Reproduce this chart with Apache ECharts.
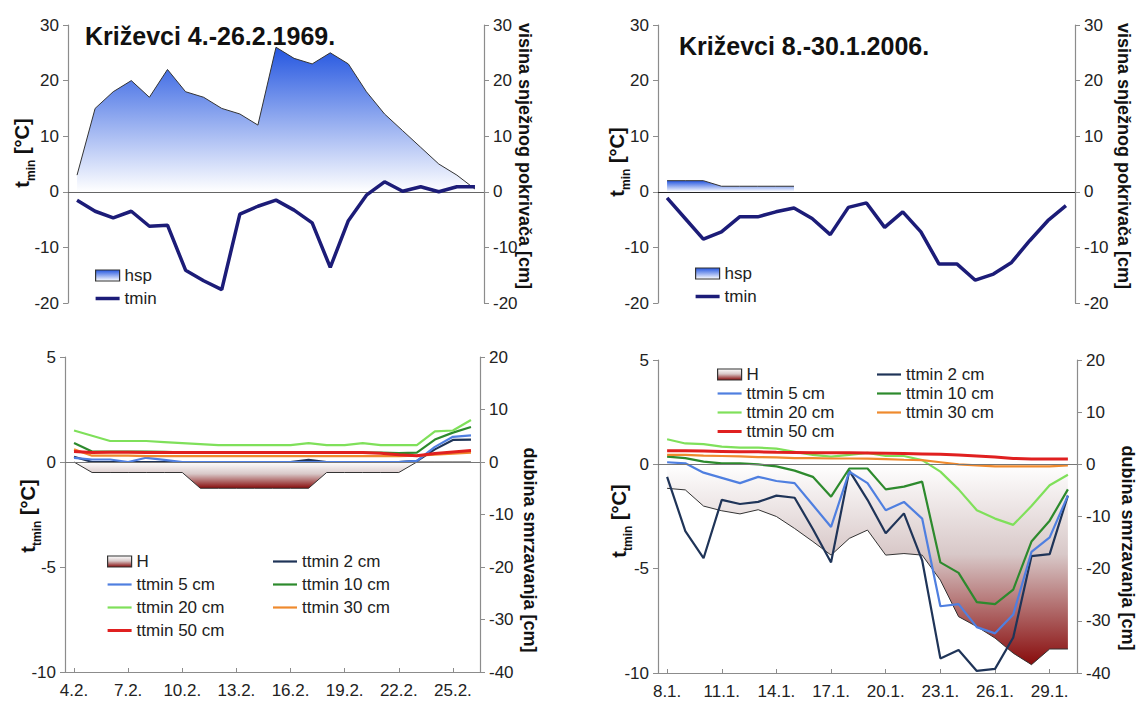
<!DOCTYPE html>
<html><head><meta charset="utf-8">
<script src="https://cdn.jsdelivr.net/npm/echarts@6/dist/echarts.min.js"></script>
<style>html,body{margin:0;padding:0;background:#fff}#c{width:1143px;height:702px}</style>
</head><body><div id="c"></div>
<script>
// ---- categories ----
const daysFeb1969 = ['4.2.','5.2.','6.2.','7.2.','8.2.','9.2.','10.2.','11.2.','12.2.','13.2.','14.2.','15.2.','16.2.','17.2.','18.2.','19.2.','20.2.','21.2.','22.2.','23.2.','24.2.','25.2.','26.2.'];
const daysJan2006 = ['8.1.','9.1.','10.1.','11.1.','12.1.','13.1.','14.1.','15.1.','16.1.','17.1.','18.1.','19.1.','20.1.','21.1.','22.1.','23.1.','24.1.','25.1.','26.1.','27.1.','28.1.','29.1.','30.1.'];

// ---- 1969 (top-left / bottom-left) ----
const hsp1969  = [3,15,18,20,17,22,18,17,15,14,12,26,24,23,25,23,18,14,11,8,5,3,0.5];
const tmin1969 = [-1.5,-3.5,-4.7,-3.5,-6.2,-6,-14.1,-16,-17.6,-4,-2.6,-1.5,-3.3,-5.6,-13.6,-5.2,-0.6,1.8,0.1,0.9,0,0.9,0.9];
const H1969    = [0,-2,-2,-2,-2,-2,-2,-5,-5,-5,-5,-5,-5,-5,-2,-2,-2,-2,-2,0,0,0,0];
const t2_1969  = [0.25,0,0,0,0,0,0,0,0,0,0,0,0,0.1,0,0,0,0,0,0.05,0.6,1.05,1.07];
const t5_1969  = [0.2,0.12,0.12,0,0.2,0.1,0,0,0,0,0,0,0,0,0,0,0,0,0,0.05,0.72,1.2,1.27];
const t10_1969 = [0.9,0.5,0.5,0.5,0.5,0.48,0.46,0.45,0.45,0.45,0.45,0.45,0.45,0.45,0.45,0.45,0.45,0.45,0.42,0.45,1.07,1.4,1.67];
const t20_1969 = [1.5,1.25,1.0,1.0,1.0,0.95,0.9,0.85,0.8,0.8,0.8,0.8,0.8,0.9,0.8,0.8,0.9,0.8,0.8,0.8,1.46,1.5,2.0];
const t30_1969 = [0.6,0.3,0.3,0.3,0.28,0.28,0.28,0.28,0.28,0.28,0.28,0.28,0.28,0.28,0.28,0.28,0.28,0.28,0.28,0.3,0.35,0.4,0.45];
const t50_1969 = [0.5,0.45,0.47,0.47,0.45,0.45,0.45,0.45,0.45,0.45,0.45,0.45,0.45,0.45,0.45,0.45,0.45,0.42,0.35,0.3,0.4,0.48,0.55];

// ---- 2006 (top-right / bottom-right) ----
const hsp2006  = [2,2,2,1,1,1,1,1,null,null,null,null,null,null,null,null,null,null,null,null,null,null,null];
const tmin2006 = [-1.1,-4.8,-8.5,-7.2,-4.5,-4.5,-3.6,-2.9,-4.8,-7.7,-2.8,-2.0,-6.4,-3.6,-7.2,-13.0,-13.0,-15.9,-14.8,-12.7,-8.8,-5.2,-2.5];
const H2006    = [-4.6,-4.9,-8.0,-8.9,-9.5,-8.7,-10.0,-12.3,-14.8,-17.4,-14.2,-12.6,-17.4,-17.1,-17.4,-22.2,-29.2,-31.1,-33.3,-36.2,-38.4,-35.4,-35.4];
const t2_2006  = [-0.6,-3.2,-4.5,-1.7,-1.9,-1.8,-1.5,-1.6,-3.1,-4.7,-0.3,-1.7,-3.3,-2.35,-4.6,-9.3,-8.9,-9.9,-9.8,-8.3,-4.4,-4.3,-1.5];
const t5_2006  = [0.1,0.05,-0.4,-0.65,-0.9,-0.6,-0.8,-0.9,-1.95,-3.0,-0.35,-0.9,-2.2,-1.8,-2.6,-6.8,-6.7,-7.8,-8.1,-7.2,-4.2,-3.5,-1.5];
const t10_2006 = [0.37,0.3,0.13,0.05,0.05,0,-0.1,-0.3,-0.6,-1.55,-0.2,-0.2,-1.2,-1.07,-0.83,-4.7,-5.2,-6.6,-6.7,-6.0,-3.7,-2.7,-1.2];
const t20_2006 = [1.2,1.0,0.97,0.85,0.8,0.8,0.75,0.6,0.45,0.37,0.45,0.55,0.4,0.4,0.2,-0.35,-1.2,-2.2,-2.6,-2.9,-2.0,-1.0,-0.5];
const t30_2006 = [0.45,0.45,0.42,0.4,0.38,0.35,0.33,0.3,0.3,0.28,0.28,0.27,0.25,0.22,0.2,0.1,0,-0.05,-0.1,-0.1,-0.1,-0.1,-0.05];
const t50_2006 = [0.65,0.65,0.64,0.62,0.6,0.6,0.58,0.57,0.56,0.55,0.55,0.54,0.53,0.52,0.5,0.48,0.45,0.4,0.35,0.28,0.26,0.26,0.26];

// ---- text ----
const title1969 = 'Križevci 4.-26.2.1969.';
const title2006 = 'Križevci 8.-30.1.2006.';
const nameSnow = 'visina snježnog pokrivača [cm]';
const nameFrost = 'dubina smrzavanja [cm]';

const FONT = '"Liberation Sans", Arial, sans-serif';
const chart = echarts.init(document.getElementById('c'), null, {renderer: 'svg'});

const blueGrad = () => new echarts.graphic.LinearGradient(0,0,0,1,[{offset:0,color:'#2456e0'},{offset:1,color:'#ffffff'}]);
const brownGrad = () => new echarts.graphic.LinearGradient(0,0,0,1,[{offset:0,color:'#ffffff'},{offset:0.45,color:'#d8c8c8'},{offset:1,color:'#880c0c'}]);

const COL = {tmin:'#1c1c78', t2:'#1f3458', t5:'#4f7fe0', t10:'#2d8a2d', t20:'#7fe05a', t30:'#ef8a2e', t50:'#e02020'};
const LW = {'tmin':3.5, 'ttmin 2 cm':2.2, 'ttmin 5 cm':2.2, 'ttmin 10 cm':2.2, 'ttmin 20 cm':2.2, 'ttmin 30 cm':2.2, 'ttmin 50 cm':3};

function yAx(gi, pos, min, max, interval){
  return {type:'value', gridIndex:gi, position:pos, min, max, interval,
    axisLine:{show:true, lineStyle:{color:'#8c8c8c', width:1.2}},
    axisTick:{show:true, inside:false, length:5, lineStyle:{color:'#8c8c8c'}},
    axisLabel:{fontSize:17, color:'#222', fontFamily:FONT, margin:9},
    splitLine:{show:false}};
}
function topX(gi, cats, col){
  return {type:'category', gridIndex:gi, data:cats, boundaryGap:true,
    axisLine:{onZero:true, lineStyle:{color:col, width:1}}, axisTick:{show:false}, axisLabel:{show:false}};
}
function botX(gi, cats){
  return {type:'category', gridIndex:gi, data:cats, boundaryGap:true,
    axisLine:{onZero:false, lineStyle:{color:'#8c8c8c', width:1.2}},
    axisTick:{show:true, inside:true, length:4, interval:2, alignWithLabel:true, lineStyle:{color:'#8c8c8c'}},
    axisLabel:{interval:2, fontSize:17, color:'#222', fontFamily:FONT, margin:10}};
}
function line(name, xi, yi, data, color){
  return {name, type:'line', xAxisIndex:xi, yAxisIndex:yi, data, symbol:'none', smooth:false,
    lineStyle:{color, width:LW[name]}, itemStyle:{color}, z:3};
}
function area(name, xi, yi, data, grad, withZero){
  const s = {name, type:'line', xAxisIndex:xi, yAxisIndex:yi, data, symbol:'none',
    lineStyle:{color:'#333', width:1}, itemStyle:{color:'#555'}, areaStyle:{color:grad, opacity:1}, z:2};
  if (withZero) s.markLine = {silent:true, symbol:['none','none'], label:{show:false},
    lineStyle:{color:'#777', width:1, type:'solid'}, data:[{yAxis:0}]};
  return s;
}
const legText = {fontSize:17, color:'#222', fontFamily:FONT};
function legItem(n){
  if (n === 'hsp') return {name:n, icon:'rect', itemStyle:{color:blueGrad(), borderColor:'#333', borderWidth:1.2}};
  if (n === 'H') return {name:n, icon:'rect', itemStyle:{color:brownGrad(), borderColor:'#333', borderWidth:1.2}};
  return {name:n, icon:'path://M0,0H24V' + LW[n] + 'H0Z'};
}
function leg(left, top, gap, items){
  return {left, top, orient:'vertical', itemGap:gap, itemWidth:24, itemHeight:11, selectedMode:false,
    symbolKeepAspect:true, textStyle:legText, data:items.map(legItem)};
}
const richName = (sub) => ({
  text:'{a|t}{b|'+sub+'}{a| [°C]}',
  rich:{a:{fontSize:20, fontWeight:'bold', fontFamily:FONT, fill:'#111', lineHeight:22, verticalAlign:'top'},
        b:{fontSize:12, fontWeight:'bold', fontFamily:FONT, fill:'#111', lineHeight:25, verticalAlign:'bottom'}},
  align:'center', verticalAlign:'middle'
});
function vtext(x, y, rot, style){ return {type:'text', x, y, rotation:rot, silent:true, style}; }
function plain(text, size){ return {text, fontSize:size, fontWeight:'bold', fontFamily:FONT, fill:'#111', align:'center', verticalAlign:'middle'}; }

const option = {
  animation:false,
  backgroundColor:'#fff',
  grid:[
    {left:68, top:25, width:416, height:278},
    {left:658, top:25, width:417, height:278},
    {left:65, top:357, width:415, height:315},
    {left:658, top:360, width:419, height:313}
  ],
  xAxis:[topX(0, daysFeb1969, '#666'), topX(1, daysJan2006, '#222'), botX(2, daysFeb1969), botX(3, daysJan2006)],
  yAxis:[
    yAx(0,'left',-20,30,10), yAx(0,'right',-20,30,10),
    yAx(1,'left',-20,30,10), yAx(1,'right',-20,30,10),
    yAx(2,'left',-10,5,5),  yAx(2,'right',-40,20,10),
    yAx(3,'left',-10,5,5),  yAx(3,'right',-40,20,10)
  ],
  legend:[
    leg(90, 262, 6, ['hsp','tmin']),
    leg(690, 260, 6, ['hsp','tmin']),
    leg(102, 548, 6, ['H','ttmin 5 cm','ttmin 20 cm','ttmin 50 cm']),
    leg(268, 548, 6, ['ttmin 2 cm','ttmin 10 cm','ttmin 30 cm']),
    leg(712, 361, 2, ['H','ttmin 5 cm','ttmin 20 cm','ttmin 50 cm']),
    leg(872, 361, 2, ['ttmin 2 cm','ttmin 10 cm','ttmin 30 cm'])
  ],
  graphic:[
    {type:'text', x:85, y:36, silent:true, style:{text:title1969, fontSize:25, fontWeight:'bold', fontFamily:FONT, fill:'#111', align:'left', verticalAlign:'middle'}},
    {type:'text', x:679, y:46, silent:true, style:{text:title2006, fontSize:25, fontWeight:'bold', fontFamily:FONT, fill:'#111', align:'left', verticalAlign:'middle'}},
    vtext(24, 153, Math.PI/2, richName('min')),
    vtext(619, 162, Math.PI/2, richName('min')),
    vtext(30, 516, Math.PI/2, richName('tmin')),
    vtext(621, 521, Math.PI/2, richName('tmin')),
    vtext(525, 156, -Math.PI/2, plain(nameSnow, 18)),
    vtext(1124, 156, -Math.PI/2, plain(nameSnow, 18)),
    vtext(530, 550, -Math.PI/2, plain(nameFrost, 18)),
    vtext(1128, 548, -Math.PI/2, plain(nameFrost, 18))
  ],
  series:[
    area('hsp', 0, 1, hsp1969, blueGrad(), false),
    line('tmin', 0, 0, tmin1969, COL.tmin),
    area('hsp', 1, 3, hsp2006, blueGrad(), false),
    line('tmin', 1, 2, tmin2006, COL.tmin),

    area('H', 2, 5, H1969, brownGrad(), true),
    line('ttmin 2 cm', 2, 4, t2_1969, COL.t2),
    line('ttmin 5 cm', 2, 4, t5_1969, COL.t5),
    line('ttmin 10 cm', 2, 4, t10_1969, COL.t10),
    line('ttmin 20 cm', 2, 4, t20_1969, COL.t20),
    line('ttmin 30 cm', 2, 4, t30_1969, COL.t30),
    line('ttmin 50 cm', 2, 4, t50_1969, COL.t50),

    area('H', 3, 7, H2006, brownGrad(), true),
    line('ttmin 2 cm', 3, 6, t2_2006, COL.t2),
    line('ttmin 5 cm', 3, 6, t5_2006, COL.t5),
    line('ttmin 10 cm', 3, 6, t10_2006, COL.t10),
    line('ttmin 20 cm', 3, 6, t20_2006, COL.t20),
    line('ttmin 30 cm', 3, 6, t30_2006, COL.t30),
    line('ttmin 50 cm', 3, 6, t50_2006, COL.t50)
  ]
};
chart.setOption(option);
</script></body></html>
